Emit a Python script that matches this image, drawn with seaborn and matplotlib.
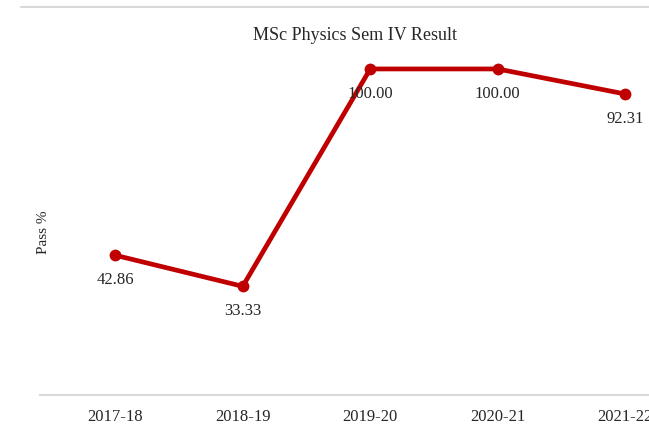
import matplotlib.pyplot as plt
import pandas as pd
import seaborn as sns

# Data
years = ['2017-18', '2018-19', '2019-20', '2020-21', '2021-22']
pass_pct = [42.86, 33.33, 100.00, 100.00, 92.31]

df = pd.DataFrame({'year': years, 'pass': pass_pct})

sns.set_style('white')
plt.rcParams['font.family'] = ['Liberation Serif', 'DejaVu Serif']

fig = plt.figure(figsize=(6.49, 4.32), dpi=100)
# axes runs past the right edge, like the cropped original
ax = fig.add_axes([40 / 649, 37 / 432, 649 / 649, 388 / 432])

sns.lineplot(data=df, x='year', y='pass', color='#c00000', linewidth=3.4,
             marker='o', markersize=8.5, markeredgewidth=0, ax=ax)

for i, v in enumerate(pass_pct):
    ax.annotate(f'{v:.2f}', (i, v), xytext=(0, -18), textcoords='offset points',
                ha='center', va='center', fontsize=12, color='#262626')

ax.set_xlim(-0.59, 4.5)
ax.set_ylim(0, 119)
ax.set_yticks([])
ax.tick_params(axis='x', length=0, pad=10, labelsize=12, colors='#262626')

for s in ['left', 'right']:
    ax.spines[s].set_visible(False)
ax.spines['bottom'].set_color('#d9d9d9')
ax.spines['bottom'].set_linewidth(1.5)
ax.spines['top'].set_visible(False)
ax.axhline(119, xmin=-0.03, xmax=1, color='#d9d9d9', linewidth=1.5, clip_on=False)

ax.set_xlabel('')
ax.set_ylabel('Pass %', fontsize=11, color='#262626', labelpad=0)
ax.yaxis.set_label_coords(0.0155, 0.42)
ax.set_title('MSc Physics Sem IV Result', fontsize=13, color='#262626', pad=-24,
             x=(355 - 40) / 649)

fig.savefig('out.png', dpi=100)
